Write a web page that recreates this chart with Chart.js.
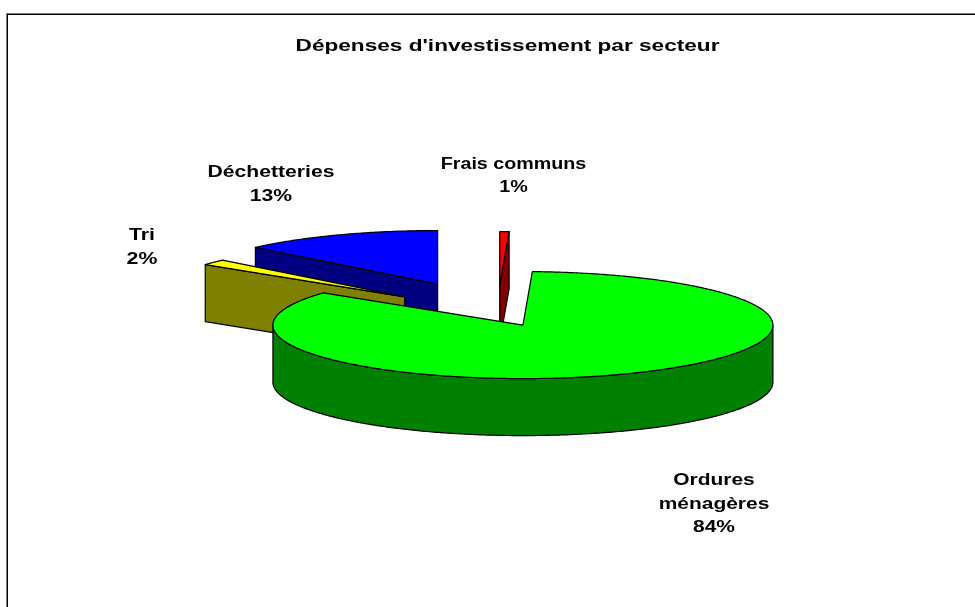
<!DOCTYPE html>
<html>
<head>
<meta charset="utf-8">
<style>
  html, body { margin: 0; padding: 0; background: #fff; }
  canvas { display: block; }
</style>
<script src="https://cdn.jsdelivr.net/npm/chart.js@4"></script>
</head>
<body>
<canvas id="pie-chart" width="975" height="607"></canvas>
<script>
const chartTitle = "Dépenses d'investissement par secteur";
const categories = ['Frais communs', 'Ordures ménagères', 'Tri', 'Déchetteries'];
const labelLines = [['Frais communs'], ['Ordures', 'ménagères'], ['Tri'], ['Déchetteries']];
const shares = [0.6, 84.7, 1.7, 13.0];
const shownPercents = ['1%', '84%', '2%', '13%'];
const topColors = ['#ff0000', '#00ff00', '#ffff00', '#0000ff'];
const sideColors = ['#800000', '#008000', '#808000', '#000080'];
const explode = [133, 60, 121, 150];

const FONT = 'Liberation Sans, Arial, sans-serif';
const BASE_X = 497.2, BASE_Y = 313.5; // pie centre on the page
const TILT = 0.214;  // flattening of the pie
const DEPTH = 57;    // height of the slices
const STRETCH = 1.33; // the original text is wider than the font
const drawOrder = [3, 0, 2, 1]; // back to front

// where the text block of each label is centred, and how wide its text runs
const labelPos = [[513.5, 176], [714, 504.5], [142, 247.5], [271, 184.5]];
const labelStretch = [1.23, 1.31, 1.33, 1.32];

// screen position of a point on a slice, from the arc element's own geometry
const project = (el, angle, r) => {
    const mid = (el.startAngle + el.endAngle) / 2;
    const off = el.options.offset;
    const x = Math.cos(mid) * off + Math.cos(angle) * r;
    const y = Math.sin(mid) * off + Math.sin(angle) * r;
    return [BASE_X + x, BASE_Y + y * TILT];
};

const outline = (ctx, pts, fill) => {
    ctx.beginPath();
    pts.forEach((p, i) => i ? ctx.lineTo(p[0], p[1]) : ctx.moveTo(p[0], p[1]));
    ctx.closePath();
    ctx.fillStyle = fill;
    ctx.fill();
    ctx.stroke();
};

const rimPoints = (el, from, to) => {
    const pts = [];
    const steps = Math.max(2, Math.ceil((to - from) / 0.01));
    for (let i = 0; i <= steps; i++) {
        pts.push(project(el, from + (to - from) * i / steps, el.outerRadius));
    }
    return pts;
};

const drop = (pts) => pts.map(p => [p[0], p[1] + DEPTH]);

const drawSlice = (ctx, el, index) => {
    const side = sideColors[index];
    const r = el.outerRadius;
    const apex = project(el, 0, 0);

    // radial walls, only the ones turned towards us
    if (Math.cos(el.startAngle) < 0) {
        const rim = project(el, el.startAngle, r);
        outline(ctx, [apex, rim].concat(drop([rim, apex])), side);
    }
    if (Math.cos(el.endAngle) > 0) {
        const rim = project(el, el.endAngle, r);
        outline(ctx, [apex, rim].concat(drop([rim, apex])), side);
    }

    // outer rim, front half of the pie only
    const from = Math.max(el.startAngle, 0);
    const to = Math.min(el.endAngle, Math.PI);
    if (to > from) {
        const edge = rimPoints(el, from, to);
        outline(ctx, edge.concat(drop(edge).reverse()), side);
    }

    // top face
    outline(ctx, [apex].concat(rimPoints(el, el.startAngle, el.endAngle)), el.options.backgroundColor);
};

const pie3d = {
    id: 'pie3d',
    afterLayout(chart) {
        // widen the title block the same way as the labels
        const block = chart.titleBlock;
        if (block.stretched) return;
        block.stretched = true;
        const drawTitle = block.draw;
        block.draw = function () {
            const ctx = chart.ctx;
            const mid = (block.left + block.right) / 2;
            ctx.save();
            ctx.translate(mid, 0);
            ctx.scale(STRETCH, 1);
            ctx.translate(-mid, 0);
            drawTitle.call(block);
            ctx.restore();
        };
    },
    beforeDraw(chart) {
        const ctx = chart.ctx;
        ctx.save();
        ctx.fillStyle = '#fff';
        ctx.fillRect(0, 0, chart.width, chart.height);
        // frame runs off the right and bottom of the page
        ctx.strokeStyle = '#808080';
        ctx.lineWidth = 2;
        ctx.strokeRect(7, 14, 1000, 700);
        ctx.strokeStyle = '#000';
        ctx.lineWidth = 1;
        ctx.strokeRect(7.5, 14.5, 1000, 700);
        ctx.restore();
    },
    beforeDatasetDraw(chart, args) {
        const ctx = chart.ctx;
        const arcs = args.meta.data;
        ctx.save();
        ctx.strokeStyle = '#000';
        ctx.lineWidth = 1.2;
        ctx.lineJoin = 'round';
        drawOrder.forEach(i => drawSlice(ctx, arcs[i], i));
        ctx.restore();
        return false;
    },
    afterDraw(chart) {
        const ctx = chart.ctx;
        ctx.save();
        ctx.fillStyle = '#000';
        ctx.textAlign = 'center';
        ctx.textBaseline = 'middle';
        ctx.font = 'bold 16px ' + FONT;
        categories.forEach((name, i) => {
            const lines = labelLines[i].concat(shownPercents[i]);
            lines.forEach((line, n) => {
                const y = labelPos[i][1] + (n - (lines.length - 1) / 2) * 23.5;
                ctx.save();
                ctx.translate(labelPos[i][0], y);
                ctx.scale(labelStretch[i], 1);
                ctx.fillText(line, 0, 0);
                ctx.restore();
            });
        });
        ctx.restore();
    }
};

new Chart(document.getElementById('pie-chart'), {
    type: 'pie',
    data: {
        labels: categories,
        datasets: [{
            data: shares,
            backgroundColor: topColors,
            borderWidth: 0,
            offset: explode,
            radius: 250,
            clip: false
        }]
    },
    options: {
        responsive: false,
        animation: false,
        layout: { padding: { left: 40 } },
        plugins: {
            legend: { display: false },
            tooltip: { enabled: false },
            title: {
                display: true,
                text: chartTitle,
                color: '#000',
                font: { family: FONT, size: 17, weight: 'bold' },
                padding: { top: 36, bottom: 10 }
            }
        }
    },
    plugins: [pie3d]
});
</script>
</body>
</html>
